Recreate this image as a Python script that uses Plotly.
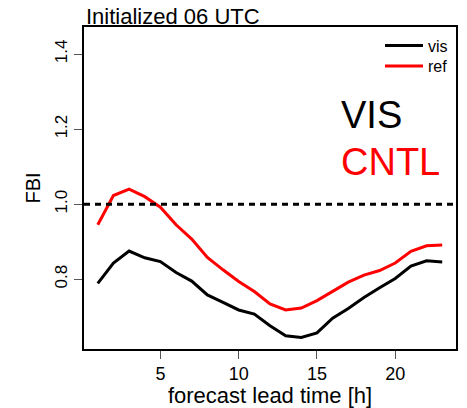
import plotly.graph_objects as go

lead_time = list(range(1, 24))
fbi_vis = [0.789, 0.843, 0.875, 0.857, 0.847, 0.818, 0.795, 0.758, 0.738, 0.718, 0.707, 0.676,
           0.649, 0.645, 0.657, 0.696, 0.722, 0.751, 0.777, 0.802, 0.835, 0.849, 0.846]
fbi_ref = [0.945, 1.023, 1.040, 1.020, 0.992, 0.945, 0.907, 0.858, 0.825, 0.794, 0.767, 0.734,
           0.718, 0.723, 0.743, 0.767, 0.792, 0.811, 0.823, 0.843, 0.874, 0.889, 0.891]
x_ticks = [5, 10, 15, 20]
y_ticks = [0.8, 1.0, 1.2, 1.4]
y_tick_labels = ["0.8", "1.0", "1.2", "1.4"]
ref_level = 1.0

FONT = "Liberation Sans, Arial, sans-serif"
PLOT_H = 408 - 27 - 59

fig = go.Figure()
fig.add_trace(go.Scatter(x=lead_time, y=fbi_vis, mode="lines", name="vis", legend="legend",
                         line=dict(color="black", width=3)))
fig.add_trace(go.Scatter(x=lead_time, y=fbi_ref, mode="lines", name="ref", legend="legend2",
                         line=dict(color="red", width=3)))

fig.add_shape(type="line", xref="paper", x0=0, x1=1, yref="y", y0=ref_level, y1=ref_level,
              line=dict(color="black", width=3, dash="6px,5px"), layer="above")

leg_common = dict(xanchor="left", yanchor="middle", bgcolor="rgba(0,0,0,0)",
                  font=dict(size=16, family=FONT), itemwidth=38)

fig.update_layout(
    width=467, height=408,
    margin=dict(l=84, r=11, t=27, b=59, autoexpand=False),
    paper_bgcolor="white", plot_bgcolor="white",
    font=dict(family=FONT, color="black"),
    showlegend=True,
    legend=dict(x=(380 - 84) / 372, y=1 - (45.7 - 27) / PLOT_H, **leg_common),
    legend2=dict(x=(380 - 84) / 372, y=1 - (66 - 27) / PLOT_H, **leg_common),
    xaxis=dict(range=[0.12, 23.88], tickvals=x_ticks, ticks="outside", ticklen=8,
               tickcolor="#555", tickfont=dict(size=18), showgrid=False, zeroline=False,
               showline=True, linecolor="black", linewidth=1.5, mirror=True, automargin=False,
               title=dict(text="forecast lead time [h]", font=dict(size=22), standoff=4)),
    yaxis=dict(range=[0.614, 1.472], tickvals=y_ticks, ticktext=y_tick_labels,
               ticks="outside", ticklen=8, tickcolor="#555", tickangle=-90,
               tickfont=dict(size=17), showgrid=False, zeroline=False, automargin=False,
               showline=True, linecolor="black", linewidth=1.5, mirror=True,
               title=dict(text="FBI", font=dict(size=20), standoff=6)),
    annotations=[
        dict(text="Initialized 06 UTC", xref="paper", yref="paper", x=0, y=1 + (27 - 16) / PLOT_H,
             xanchor="left", yanchor="middle", showarrow=False, font=dict(size=22)),
        dict(text="VIS", xref="paper", yref="paper", x=(339 - 84) / 372, y=1 - (115 - 27) / PLOT_H,
             xanchor="left", yanchor="middle", showarrow=False, font=dict(size=38, color="black")),
        dict(text="CNTL", xref="paper", yref="paper", x=(339 - 84) / 372, y=1 - (162 - 27) / PLOT_H,
             xanchor="left", yanchor="middle", showarrow=False, font=dict(size=38, color="red")),
    ],
)

fig.write_html("out.html")
